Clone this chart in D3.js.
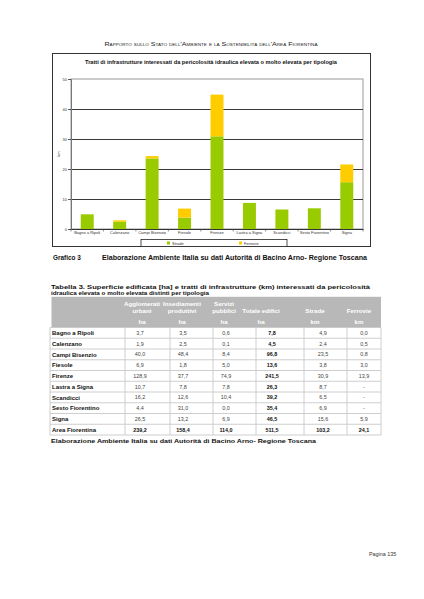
<!DOCTYPE html>
<html><head><meta charset="utf-8">
<script src="https://cdn.jsdelivr.net/npm/d3@7"></script>
<style>
html,body{margin:0;padding:0;background:#fff;}
svg{display:block;font-family:"Liberation Sans",Arial,sans-serif;}
</style></head>
<body>
<svg id="page" width="424" height="599"></svg>
<script>
// ---------- DATA ----------
const categories = ["Bagno a Ripoli","Calenzano","Campi Bisenzio","Fiesole","Firenze","Lastra a Signa","Scandicci","Sesto Fiorentino","Signa"];
const strade   = [4.9, 2.4, 23.5, 3.8, 30.9, 8.7, 6.5, 6.9, 15.6];
const ferrovie = [0.0, 0.5, 0.8, 3.0, 13.9, 0, 0, 0, 5.9];
const seriesNames = ["Strade","Ferrovie"];
const yTicks = [0,10,20,30,40,50];

const tableRows = ["Bagno a Ripoli","Calenzano","Campi Bisenzio","Fiesole","Firenze","Lastra a Signa","Scandicci","Sesto Fiorentino","Signa","Area Fiorentina"];
const agglomerati = ["3,7","1,9","40,0","6,9","128,9","10,7","16,2","4,4","26,5","239,2"];
const insediamenti = ["3,5","2,5","48,4","1,8","37,7","7,8","12,6","31,0","13,2","158,4"];
const servizi = ["0,6","0,1","8,4","5,0","74,9","7,8","10,4","0,0","6,9","114,0"];
const totale = ["7,8","4,5","96,8","13,6","241,5","26,3","39,2","35,4","46,5","511,5"];
const stradeKm = ["4,9","2,4","23,5","3,8","30,9","8,7","6,5","6,9","15,6","103,2"];
const ferrovieKm = ["0,0","0,5","0,8","3,0","13,9","-","-","-","5,9","24,1"];
const headerLine1 = ["Agglomerati","Insediamenti","Servizi","","",""];
const headerLine2 = ["urbani","produttivi","pubblici","Totale edifici","Strade","Ferrovie"];
const headerUnits = ["ha","ha","ha","ha","km","km"];

// ---------- PAGE ----------
const svg = d3.select("#page");

svg.append("text").attr("x",211).attr("y",46).attr("text-anchor","middle")
  .style("font-size","6.2px").style("font-variant","small-caps").attr("fill","#222")
  .attr("textLength",213).attr("lengthAdjust","spacingAndGlyphs")
  .text("Rapporto sullo Stato dell'Ambiente e la Sostenibilità dell'Area Fiorentina");

// chart box
svg.append("rect").attr("x",52.5).attr("y",53.5).attr("width",318).attr("height",193)
  .attr("fill","#fff").attr("stroke","#333").attr("stroke-width",1);

svg.append("text").attr("x",211).attr("y",64).attr("text-anchor","middle")
  .style("font-size","5.2px").style("font-weight","bold").attr("fill","#111")
  .attr("textLength",252).attr("lengthAdjust","spacingAndGlyphs")
  .text("Tratti di infrastrutture interessati da pericolosità idraulica elevata o molto elevata  per tipologia");

const plot = {l:71, r:363, t:79, b:229};
const x = d3.scaleBand().domain(categories).range([plot.l, plot.r]).paddingInner(0.6).paddingOuter(0.3);
const xb = d3.scaleBand().domain(categories).range([plot.l, plot.r]);
const y = d3.scaleLinear().domain([0,50]).range([plot.b, plot.t]);
const color = d3.scaleOrdinal().domain(seriesNames).range(["#99cc00","#ffcc00"]);

// plot border gray
svg.append("rect").attr("x",plot.l).attr("y",plot.t).attr("width",plot.r-plot.l).attr("height",plot.b-plot.t)
  .attr("fill","none").attr("stroke","#999").attr("stroke-width",1);

// gridlines
svg.append("g").selectAll("line").data(yTicks.filter(d=>d>0 && d<50)).join("line")
  .attr("x1",plot.l).attr("x2",plot.r).attr("y1",d=>Math.round(y(d))+0.5).attr("y2",d=>Math.round(y(d))+0.5)
  .attr("stroke","#222").attr("stroke-width",0.9);

// bars
const stackData = categories.map((c,i)=>({cat:c, Strade:strade[i], Ferrovie:ferrovie[i]}));
const stack = d3.stack().keys(seriesNames)(stackData);
svg.append("g").selectAll("g").data(stack).join("g").attr("fill",d=>color(d.key))
  .selectAll("rect").data(d=>d).join("rect")
  .attr("x",d=>x(d.data.cat)).attr("width",x.bandwidth())
  .attr("y",d=>y(d[1])).attr("height",d=>Math.max(0,y(d[0])-y(d[1])));

// y axis
const yAxis = d3.axisLeft(y).tickValues(yTicks).tickSize(3).tickFormat(d3.format("d"));
const gy = svg.append("g").attr("transform",`translate(${plot.l},0)`).call(yAxis);
gy.select(".domain").attr("stroke","#777");
gy.selectAll(".tick line").attr("stroke","#555");
gy.selectAll(".tick text").style("font-size","4px").attr("fill","#333").attr("x",-4);

// x axis
const xAxis = d3.axisBottom(xb).tickSize(0);
const gx = svg.append("g").attr("transform",`translate(0,${plot.b})`).call(xAxis);
gx.select(".domain").attr("stroke","#333");
gx.selectAll(".tick text").style("font-size","4px").attr("fill","#333").attr("dy","0.6em").attr("y",3);
gx.selectAll("line.sep").data(categories.concat(["_end"])).join("line").attr("class","sep")
  .attr("x1",(d,i)=>plot.l+i*xb.step()).attr("x2",(d,i)=>plot.l+i*xb.step())
  .attr("y1",0).attr("y2",2.5).attr("stroke","#444").attr("stroke-width",0.6);

svg.append("text").attr("transform","translate(60,154) rotate(-90)").attr("text-anchor","middle")
  .style("font-size","4px").attr("fill","#333").text("km");

// legend
const lg = svg.append("g");
lg.append("rect").attr("x",141).attr("y",239.5).attr("width",146).attr("height",7)
  .attr("fill","#fff").attr("stroke","#222").attr("stroke-width",0.8);
const legX = [167, 239];
seriesNames.forEach((s,i)=>{
  lg.append("rect").attr("x",legX[i]).attr("y",241.5).attr("width",3).attr("height",3).attr("fill",color(s));
  lg.append("text").attr("x",legX[i]+5).attr("y",244.6).style("font-size","4px").attr("fill","#333").text(s);
});

// caption
svg.append("text").attr("x",53).attr("y",259.5).style("font-size","6.4px").style("font-weight","bold")
  .attr("fill","#111").text("Grafico 3");
svg.append("text").attr("x",102).attr("y",259.5).style("font-size","6.4px").style("font-weight","bold")
  .attr("fill","#111").attr("textLength",265).attr("lengthAdjust","spacingAndGlyphs")
  .text("Elaborazione Ambiente Italia su dati Autorità di Bacino Arno- Regione Toscana");

// ---------- TABLE ----------
svg.append("text").attr("x",51).attr("y",289.3).style("font-size","6px").style("font-weight","bold")
  .attr("fill","#111").attr("textLength",319).attr("lengthAdjust","spacingAndGlyphs")
  .text("Tabella 3. Superficie edificata [ha] e tratti di infrastrutture (km) interessati da pericolosità");
svg.append("text").attr("x",51).attr("y",295.2).style("font-size","6px").style("font-weight","bold")
  .attr("fill","#111").attr("textLength",158).attr("lengthAdjust","spacingAndGlyphs")
  .text("idraulica elevata o molto elevata distinti per tipologia");

const tbl = {l:50, r:381, headTop:296.8, headBot:327.5, rowH:10.75};
svg.append("rect").attr("x",tbl.l+1.5).attr("y",tbl.headTop).attr("width",tbl.r-tbl.l-1.5).attr("height",tbl.headBot-tbl.headTop)
  .attr("fill","#b8b8b8");

const headCenters = [142, 182, 224, 261, 315, 359];
const hg = svg.append("g").style("font-size","6.2px").style("font-weight","bold").attr("fill","#fff").attr("text-anchor","middle");
hg.selectAll("text.h1").data(headerLine1).join("text").attr("class","h1")
  .attr("x",(d,i)=>headCenters[i]).attr("y",305.5).text(d=>d);
hg.selectAll("text.h2").data(headerLine2).join("text").attr("class","h2")
  .attr("x",(d,i)=>headCenters[i]).attr("y",313).text(d=>d);
hg.selectAll("text.h3").data(headerUnits).join("text").attr("class","h3")
  .attr("x",(d,i)=>headCenters[i]).attr("y",323.5).text(d=>d);

const colSep = [50, 125, 170, 213, 256, 304, 347, 381];
const dataCenters = [140, 183, 226, 272, 323, 364];
const cols = [agglomerati, insediamenti, servizi, totale, stradeKm, ferrovieKm];
const rowY = i => tbl.headBot + i*tbl.rowH;
const tBot = rowY(tableRows.length);

const gl = svg.append("g").attr("stroke","#c8c8c8").attr("stroke-width",0.9);
d3.range(tableRows.length+1).forEach(i=>{
  gl.append("line").attr("x1",tbl.l).attr("x2",tbl.r).attr("y1",rowY(i)).attr("y2",rowY(i));
});
colSep.forEach(cx=>{
  gl.append("line").attr("x1",cx).attr("x2",cx).attr("y1",tbl.headBot).attr("y2",tBot);
});

const rg = svg.append("g");
tableRows.forEach((r,i)=>{
  const isTot = i===tableRows.length-1;
  rg.append("text").attr("x",52).attr("y",rowY(i)+7.5).style("font-size","6px").style("font-weight","bold")
    .attr("fill","#111").text(r);
  cols.forEach((c,j)=>{
    const bold = isTot || j===3;
    rg.append("text").attr("x",dataCenters[j]).attr("y",rowY(i)+7.3).attr("text-anchor","middle")
      .style("font-size","5.4px").style("font-weight",bold?"bold":"normal")
      .attr("fill",bold?"#111":"#444").text(c[i]);
  });
});

svg.append("text").attr("x",51).attr("y",tBot+7.5).style("font-size","6.2px").style("font-weight","bold")
  .attr("fill","#111").attr("textLength",265).attr("lengthAdjust","spacingAndGlyphs")
  .text("Elaborazione Ambiente Italia su dati Autorità di Bacino Arno- Regione Toscana");

svg.append("text").attr("x",369).attr("y",555.5).style("font-size","5.4px").attr("fill","#333")
  .text("Pagina 135");
</script>
</body></html>
